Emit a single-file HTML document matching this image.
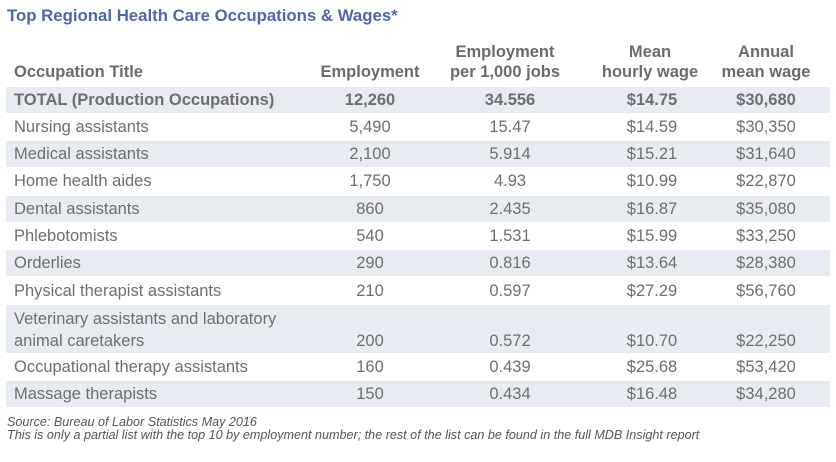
<!DOCTYPE html>
<html><head><style>
body{margin:0;width:836px;height:462px;background:#fff;font-family:"Liberation Sans",sans-serif;color:#6e6e6e;position:relative;overflow:hidden}
.t{position:absolute;left:7px;top:6px;font-size:16.8px;font-weight:bold;color:#4f67a3}
.h{position:absolute;font-size:16.5px;font-weight:bold;color:#6b6b6b;text-align:center;line-height:20px}
.r{position:absolute;left:6px;width:824px}
.s{background:#e9ebf3}
.c{position:absolute;font-size:16.5px;white-space:nowrap}
.n{text-align:center;width:120px}
.f{position:absolute;left:7px;font-size:12.6px;font-style:italic;color:#555}
</style></head><body>
<div class="t">Top Regional Health Care Occupations &amp; Wages*</div>
<div class="h" style="left:14px;top:62px;text-align:left">Occupation Title</div>
<div class="h" style="left:310px;top:62px;width:120px">Employment</div>
<div class="h" style="left:440px;top:42px;width:130px">Employment<br>per 1,000 jobs</div>
<div class="h" style="left:590px;top:42px;width:120px">Mean<br>hourly wage</div>
<div class="h" style="left:706px;top:42px;width:120px">Annual<br>mean wage</div>
<div id="rows"></div>
<div class="f" style="top:415px">Source: Bureau of Labor Statistics May 2016</div>
<div class="f" style="top:428px">This is only a partial list with the top 10 by employment number; the rest of the list can be found in the full MDB Insight report</div>
<script>
var d=[["TOTAL (Production Occupations)","12,260","34.556","$14.75","$30,680"],
["Nursing assistants","5,490","15.47","$14.59","$30,350"],
["Medical assistants","2,100","5.914","$15.21","$31,640"],
["Home health aides","1,750","4.93","$10.99","$22,870"],
["Dental assistants","860","2.435","$16.87","$35,080"],
["Phlebotomists","540","1.531","$15.99","$33,250"],
["Orderlies","290","0.816","$13.64","$28,380"],
["Physical therapist assistants","210","0.597","$27.29","$56,760"],
["Veterinary assistants and laboratory<br>animal caretakers","200","0.572","$10.70","$22,250"],
["Occupational therapy assistants","160","0.439","$25.68","$53,420"],
["Massage therapists","150","0.434","$16.48","$34,280"]];
var tops=[87,114,141,168,196,223,250,278,305,354,381],h="";
for(var i=0;i<d.length;i++){var y=tops[i],ht=(i==8?48:26);
h+='<div class="r'+(i%2==0?' s':'')+'" style="top:'+y+'px;height:'+ht+'px"></div>';
var ty=(i==8?y+26:y+3),b=i==0?'font-weight:bold;':'';
h+='<div class="c" style="'+b+'left:14px;top:'+(y+3)+'px;line-height:'+(i==8?'22px':'20px')+'">'+d[i][0]+'</div>';
var cx=[310,445,592,706];
for(var j=1;j<5;j++)h+='<div class="c n" style="'+b+'left:'+cx[j-1]+'px;top:'+ty+'px;line-height:20px;'+(j==2?'width:130px':'')+'">'+d[i][j]+'</div>';}
document.getElementById('rows').innerHTML=h;
</script>
</body></html>
